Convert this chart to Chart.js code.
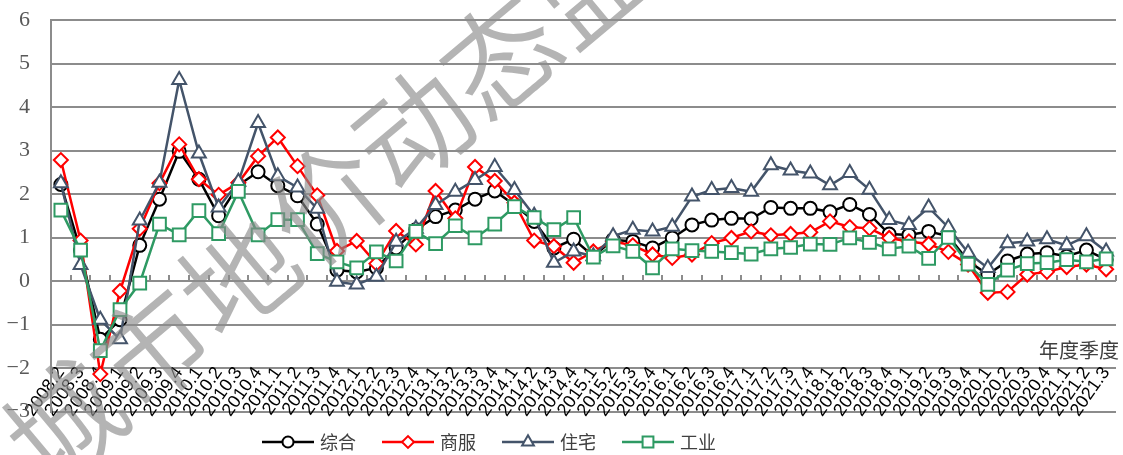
<!DOCTYPE html>
<html>
<head>
<meta charset="utf-8">
<script src="https://cdn.jsdelivr.net/npm/chart.js@4/dist/chart.umd.min.js"></script>
<style>
  html, body { margin: 0; padding: 0; background: #fff; overflow: hidden; }
</style>
</head>
<body>
<canvas id="land-chart" width="1127" height="455"></canvas>
<script>
// quarterly land price growth (%), 2008.2 - 2021.3
var quarters = [
  '2008.2', '2008.3', '2008.4',
  '2009.1', '2009.2', '2009.3', '2009.4',
  '2010.1', '2010.2', '2010.3', '2010.4',
  '2011.1', '2011.2', '2011.3', '2011.4',
  '2012.1', '2012.2', '2012.3', '2012.4',
  '2013.1', '2013.2', '2013.3', '2013.4',
  '2014.1', '2014.2', '2014.3', '2014.4',
  '2015.1', '2015.2', '2015.3', '2015.4',
  '2016.1', '2016.2', '2016.3', '2016.4',
  '2017.1', '2017.2', '2017.3', '2017.4',
  '2018.1', '2018.2', '2018.3', '2018.4',
  '2019.1', '2019.2', '2019.3', '2019.4',
  '2020.1', '2020.2', '2020.3', '2020.4',
  '2021.1', '2021.2', '2021.3'
];

var composite = [
  2.22, 0.70, -1.34,
  -0.89, 0.82, 1.88, 2.98,
  2.34, 1.50, 2.20, 2.51,
  2.19, 1.96, 1.31, 0.25,
  0.21, 0.30, 0.76, 1.18,
  1.48, 1.63, 1.88, 2.07,
  1.75, 1.37, 0.76, 0.96,
  0.57, 0.95, 0.91, 0.76,
  0.99, 1.29, 1.40, 1.44,
  1.43, 1.69, 1.67, 1.67,
  1.59, 1.76, 1.53, 1.08,
  1.06, 1.14, 1.03, 0.46,
  0.15, 0.46, 0.62, 0.65,
  0.57, 0.71, 0.49
];

var commercial = [
  2.78, 0.93, -2.14,
  -0.23, 1.20, 2.25, 3.14,
  2.34, 1.98, 2.26, 2.87,
  3.30, 2.64, 1.97, 0.69,
  0.92, 0.40, 1.15, 0.84,
  2.07, 1.44, 2.62, 2.30,
  1.80, 0.93, 0.80, 0.42,
  0.68, 0.91, 0.82, 0.61,
  0.53, 0.61, 0.87, 0.99,
  1.14, 1.05, 1.08, 1.12,
  1.37, 1.24, 1.21, 0.99,
  0.91, 0.85, 0.67, 0.38,
  -0.27, -0.25, 0.15, 0.21,
  0.32, 0.38, 0.27
];

var residential = [
  2.25, 0.37, -0.89,
  -1.34, 1.39, 2.26, 4.62,
  2.93, 1.69, 2.28, 3.63,
  2.41, 2.15, 1.66, -0.02,
  -0.08, 0.10, 0.90, 1.20,
  1.75, 2.05, 2.32, 2.62,
  2.09, 1.50, 0.42, 0.68,
  0.57, 1.03, 1.18, 1.14,
  1.25, 1.94, 2.09, 2.14,
  2.05, 2.66, 2.54, 2.47,
  2.20, 2.48, 2.10, 1.40,
  1.29, 1.69, 1.23, 0.65,
  0.30, 0.87, 0.91, 0.96,
  0.82, 1.03, 0.68
];

var industrial = [
  1.63, 0.71, -1.60,
  -0.66, -0.05, 1.31, 1.06,
  1.62, 1.09, 2.06, 1.06,
  1.41, 1.41, 0.63, 0.44,
  0.30, 0.67, 0.46, 1.14,
  0.86, 1.27, 0.99, 1.31,
  1.71, 1.46, 1.18, 1.46,
  0.55, 0.81, 0.68, 0.30,
  0.74, 0.70, 0.68, 0.65,
  0.62, 0.74, 0.77, 0.85,
  0.84, 0.99, 0.89, 0.74,
  0.80, 0.52, 1.00, 0.39,
  -0.08, 0.25, 0.40, 0.42,
  0.49, 0.44, 0.51
];

var seriesNames = ['综合', '商服', '住宅', '工业'];
var yTicks = [-3, -2, -1, 0, 1, 2, 3, 4, 5, 6];

var gridGray = '#8c8c8c';

// keep scale label padding from pushing the plot area inwards
function noPadding(scale) {
  scale.paddingTop = 0;
  scale.paddingBottom = 0;
  scale.paddingLeft = 0;
  scale.paddingRight = 0;
}

// legend with a line through the marker, drawn under the chart
var lineLegend = {
  id: 'lineLegend',
  afterDraw: function(chart) {
    var ctx = chart.ctx;
    var y = 442;
    var x0 = 262;
    var step = 120;
    ctx.save();
    chart.data.datasets.forEach(function(ds, i) {
      var x = x0 + i * step;
      ctx.strokeStyle = ds.borderColor;
      ctx.lineWidth = 2.5;
      ctx.beginPath();
      ctx.moveTo(x, y);
      ctx.lineTo(x + 52, y);
      ctx.stroke();
      ctx.fillStyle = '#fff';
      ctx.strokeStyle = ds.borderColor;
      ctx.lineWidth = 2;
      Chart.helpers.drawPoint(ctx, {
        pointStyle: ds.pointStyle,
        radius: ds.pointRadius * 0.85,
        borderWidth: 2,
        rotation: 0
      }, x + 26, y);
      ctx.fillStyle = '#404040';
      ctx.font = '18px "Noto Sans CJK SC"';
      ctx.textAlign = 'left';
      ctx.textBaseline = 'middle';
      ctx.fillText(ds.label, x + 58, y);
    });
    ctx.restore();
  }
};

// axis caption above the quarter labels, and the provider watermark
var extras = {
  id: 'extras',
  afterDraw: function(chart) {
    var ctx = chart.ctx;
    var ys = chart.scales.y;
    ctx.save();
    ctx.fillStyle = '#404040';
    ctx.font = '20px "Noto Sans CJK SC"';
    ctx.textAlign = 'right';
    ctx.textBaseline = 'bottom';
    ctx.fillText('年度季度', 1119, ys.getPixelForValue(-2) - 8);

    ctx.translate(64, 422);
    ctx.rotate(-40 * Math.PI / 180);
    ctx.fillStyle = 'rgba(140,140,140,0.65)';
    ctx.font = '350 114px "Noto Sans CJK SC"';
    ctx.textAlign = 'left';
    ctx.textBaseline = 'middle';
    ctx.fillText('城市地价动态监测', -57, 0);
    ctx.restore();
  }
};

var ctx = document.getElementById('land-chart').getContext('2d');
var landChart = new Chart(ctx, {
  type: 'line',
  data: {
    labels: quarters,
    datasets: [{
      label: seriesNames[0],
      data: composite,
      borderColor: '#000000',
      pointStyle: 'circle',
      pointRadius: 6.5,
      order: 4
    }, {
      label: seriesNames[1],
      data: commercial,
      borderColor: '#ff0000',
      pointStyle: 'rectRot',
      pointRadius: 7,
      order: 3
    }, {
      label: seriesNames[2],
      data: residential,
      borderColor: '#44546a',
      pointStyle: 'triangle',
      pointRadius: 8,
      order: 2
    }, {
      label: seriesNames[3],
      data: industrial,
      borderColor: '#2e9a63',
      pointStyle: 'rect',
      pointRadius: 9,
      order: 1
    }].map(function(ds) {
      ds.borderWidth = 2.5;
      ds.pointBackgroundColor = '#ffffff';
      ds.pointBorderColor = ds.borderColor;
      ds.pointBorderWidth = 2;
      ds.pointHoverRadius = ds.pointRadius;
      ds.tension = 0;
      ds.fill = false;
      return ds;
    })
  },
  options: {
    responsive: false,
    animation: false,
    devicePixelRatio: 1,
    layout: {
      padding: { top: 20, right: 0, bottom: 43.5, left: 0 }
    },
    plugins: {
      legend: { display: false },
      tooltip: { enabled: false }
    },
    scales: {
      x: {
        type: 'category',
        position: { y: -2 },
        offset: true,
        afterFit: noPadding,
        grid: { display: false },
        border: { display: false },
        ticks: {
          autoSkip: false,
          minRotation: 55,
          maxRotation: 55,
          padding: -13,
          color: '#000000',
          font: { family: 'Liberation Sans', size: 18 }
        }
      },
      xTicks: {
        type: 'category',
        position: { y: 0 },
        offset: true,
        afterFit: noPadding,
        grid: {
          offset: true,
          drawOnChartArea: false,
          drawTicks: true,
          tickLength: -6,
          color: gridGray,
          lineWidth: 2
        },
        border: { display: false },
        ticks: { display: false }
      },
      y: {
        min: yTicks[0],
        max: yTicks[yTicks.length - 1],
        afterBuildTicks: function(scale) {
          scale.ticks = yTicks.map(function(v) { return { value: v }; });
        },
        afterFit: function(scale) {
          scale.width = 51;
          noPadding(scale);
        },
        grid: {
          color: gridGray,
          lineWidth: 2,
          drawTicks: false
        },
        border: { display: true, color: gridGray, width: 2 },
        ticks: {
          padding: 21,
          color: '#595959',
          font: { family: 'Liberation Serif', size: 22 },
          callback: function(v) {
            return String(v).replace('-', '\u2212');
          }
        }
      }
    }
  },
  plugins: [lineLegend, extras]
});
</script>
</body>
</html>
